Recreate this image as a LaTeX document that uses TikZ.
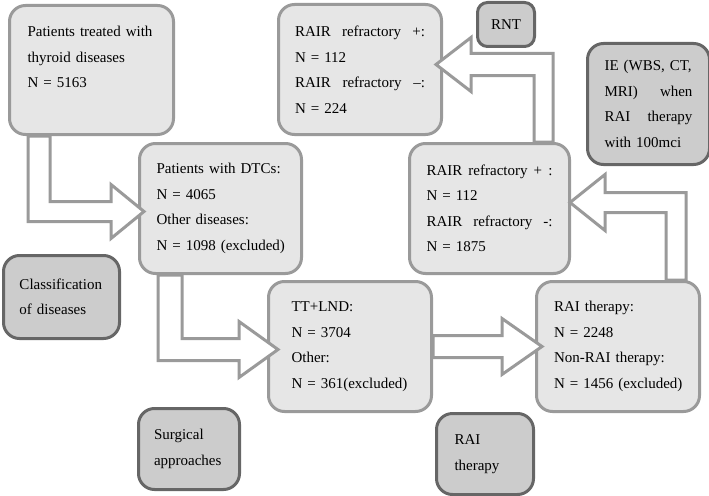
\documentclass[tikz,border=0pt]{standalone}
\usepackage{fontspec}
\setmainfont{Liberation Serif}
\usetikzlibrary{calc}
\definecolor{lightfill}{HTML}{E6E6E6}
\definecolor{lightline}{HTML}{9A9A9A}
\definecolor{darkfill}{HTML}{CCCCCC}
\definecolor{darkline}{HTML}{666666}
\newcommand{\spread}[2]{{\spaceskip=0pt\xspaceskip=0pt\makebox[#1][s]{#2}}}

\begin{document}
\begin{tikzpicture}[x=1pt,y=-1pt,
    box/.style={rectangle,rounded corners=16pt,line width=3pt,anchor=north west,align=left,inner sep=0pt,font=\fontsize{15pt}{25.5pt}\selectfont},
    lbox/.style={box,draw=lightline,fill=lightfill},
    dbox/.style={box,draw=darkline,fill=darkfill},
    harrow/.style={draw=lightline,fill=white,line width=3pt}]
    \useasboundingbox (0,0) rectangle (709,495);
    \node[lbox,minimum width=164pt,minimum height=129pt,text width=128pt] (pat) at (8,4) {Patients treated with\\ thyroid diseases\\ N = 5163\\ \mbox{}};
    \node[lbox,minimum width=162pt,minimum height=130pt,text width=128pt] (dtc) at (138,142) {\mbox{Patients with DTCs:}\\ N = 4065\\ Other diseases:\\ \mbox{N = 1098 (excluded)}};
    \node[lbox,minimum width=163pt,minimum height=130pt,text width=130pt] (ref1) at (277,3) {\spread{130pt}{RAIR refractory +:}\\ N = 112\\ \spread{130pt}{RAIR refractory –:}\\ N = 224};
    \node[dbox,minimum width=57pt,minimum height=44pt,rounded corners=10pt,align=center] (rnt) at (476,1) {RNT};
    \node[dbox,minimum width=122pt,minimum height=121pt,text width=88pt] (ie) at (586,42) {IE (WBS, CT,\\ \spread{88pt}{MRI) when}\\ \spread{88pt}{RAI therapy}\\ with 100mci};
    \node[lbox,minimum width=160pt,minimum height=130pt,text width=126pt] (ref2) at (408,142) {\spread{126pt}{RAIR refractory + :}\\ N = 112\\ \spread{126pt}{RAIR refractory -:}\\ N = 1875};
    \node[lbox,minimum width=163pt,minimum height=130pt,text width=117pt] (tt) at (267,280) {TT+LND:\\ N = 3704\\ Other:\\ \mbox{N = 361(excluded)}};
    \node[lbox,minimum width=163pt,minimum height=130pt,text width=128pt] (rai) at (535,280) {RAI therapy:\\ N = 2248\\ Non-RAI therapy:\\ \mbox{N = 1456 (excluded)}};
    \node[dbox,minimum width=116pt,minimum height=83pt,text width=84pt] (cls) at (2,254) {Classification\\ of diseases};
    \node[dbox,minimum width=101pt,minimum height=81pt,text width=70pt] (sur) at (137,407) {Surgical\\ approaches};
    \node[dbox,minimum width=97pt,minimum height=81pt,text width=61pt] (rat) at (435,412) {RAI\\ therapy};
    \coordinate (t1) at ($(dtc.west)+(6,3)$);
    \coordinate (t2) at ($(tt.west)+(11,3)$);
    \coordinate (t3) at ($(rai.west)+(7,0)$);
    \coordinate (t4) at ($(ref2.east)+(-1,-6)$);
    \coordinate (t5) at ($(ref1.east)+(-7,-5)$);
    \draw[harrow] ($(pat.south west)+(20,0)$) |- ($(t1)+(-33,10)$) -- ++(0,17) -- (t1) -- ++(-33,-27) -- ++(0,17) -| ($(pat.south west)+(42,0)$) -- cycle;
    \draw[harrow] ($(dtc.south west)+(20,0)$) |- ($(t2)+(-39,11)$) -- ++(0,17) -- (t2) -- ++(-39,-28) -- ++(0,17) -| ($(dtc.south west)+(44,0)$) -- cycle;
    \draw[harrow] ($(tt.east)+(0,-11)$) -- ($(t3)+(-40,-11)$) -- ++(0,-17) -- (t3) -- ++(-40,28) -- ++(0,-17) -- ($(tt.east)+(0,11)$) -- cycle;
    \draw[harrow] ($(rai.north east)+(-35,0)$) |- ($(t4)+(35,10)$) -- ++(0,18) -- (t4) -- ++(35,-28) -- ++(0,18) -| ($(rai.north east)+(-15,0)$) -- cycle;
    \draw[harrow] ($(ref2.north east)+(-37,0)$) |- ($(t5)+(35,11)$) -- ++(0,16) -- (t5) -- ++(35,-27) -- ++(0,16) -| ($(ref2.north east)+(-18,0)$) -- cycle;
\end{tikzpicture}
\end{document}
